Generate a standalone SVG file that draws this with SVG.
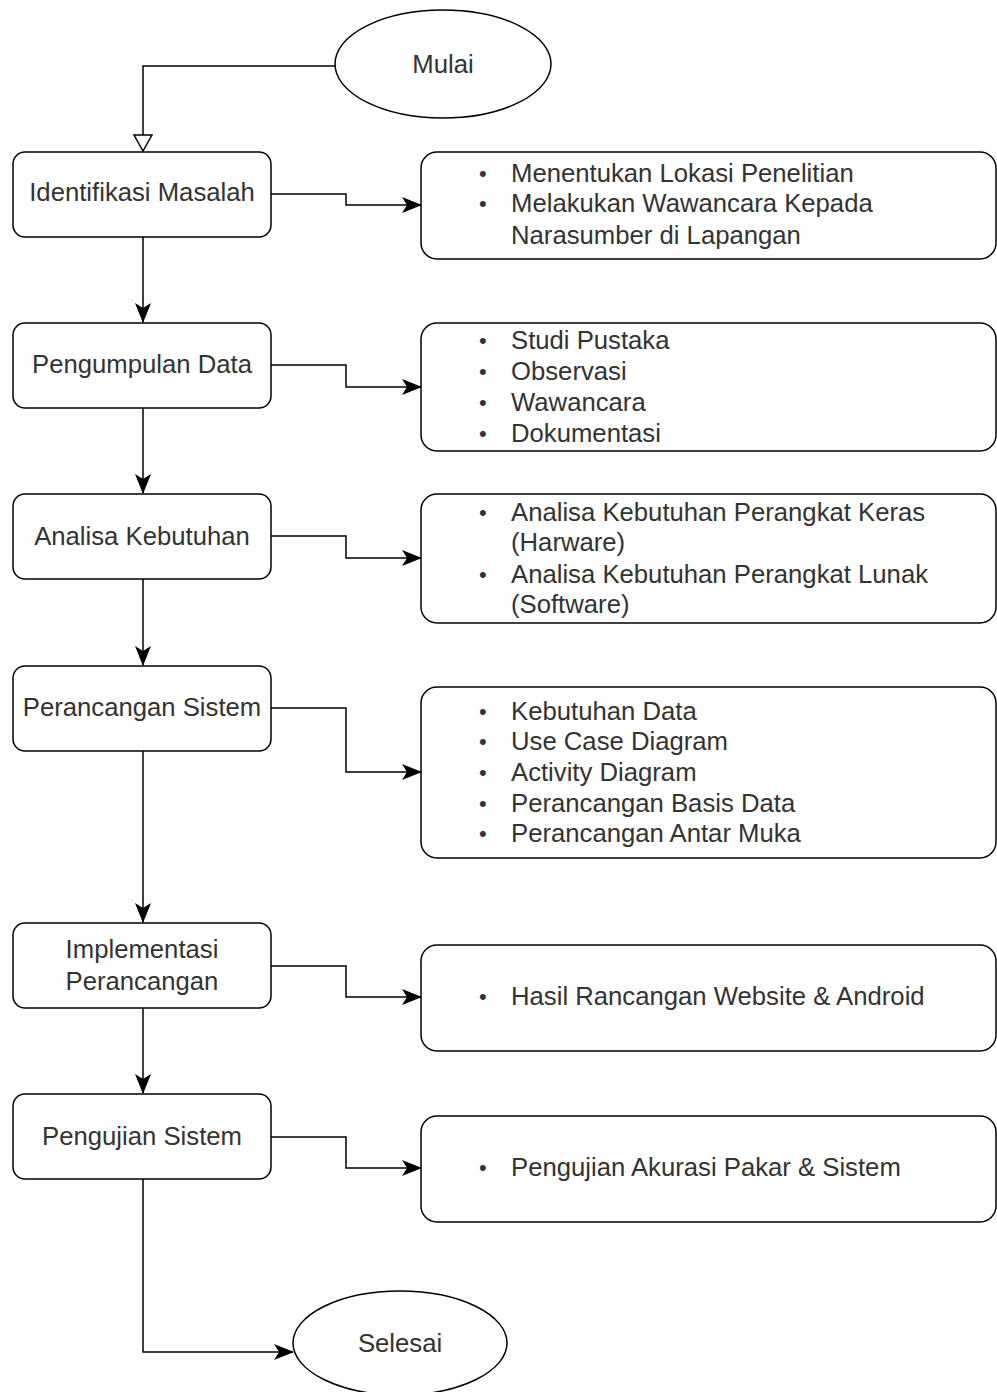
<svg xmlns="http://www.w3.org/2000/svg" width="997" height="1392" viewBox="0 0 997 1392">
<defs>
<style>
.box{fill:#fff;stroke:#000;stroke-width:1.5}
.t{font-family:"Liberation Sans",Arial,sans-serif;font-size:25.7px;fill:#333}
.b{font-family:"Liberation Sans",Arial,sans-serif;font-size:22px;fill:#333}
.c{text-anchor:middle}
.ln{fill:none;stroke:#000;stroke-width:1.5}
</style>
<marker id="a" viewBox="0 0 20 16" refX="19" refY="8" markerWidth="20" markerHeight="16" markerUnits="userSpaceOnUse" orient="auto">
<path d="M0,0 L20,8 L0,16 L5,8 Z" fill="#000"/>
</marker>
<marker id="h" viewBox="0 0 18 20" refX="17" refY="10" markerWidth="18" markerHeight="20" markerUnits="userSpaceOnUse" orient="auto">
<path d="M1,1 L17,10 L1,19 Z" fill="#fff" stroke="#000" stroke-width="1.5"/>
</marker>
</defs>
<rect width="997" height="1392" fill="#fff"/>
<g id="connectors">
<path class="ln" d="M335,66 H143 V151" marker-end="url(#h)"/>
<path class="ln" d="M143,237 V322" marker-end="url(#a)"/>
<path class="ln" d="M143,408 V493" marker-end="url(#a)"/>
<path class="ln" d="M143,579 V665" marker-end="url(#a)"/>
<path class="ln" d="M143,751 V922" marker-end="url(#a)"/>
<path class="ln" d="M143,1008 V1093" marker-end="url(#a)"/>
<path class="ln" d="M143,1179 V1352 H293" marker-end="url(#a)"/>
<path class="ln" d="M271,194 H346 V205 H421" marker-end="url(#a)"/>
<path class="ln" d="M271,365 H346 V387 H421" marker-end="url(#a)"/>
<path class="ln" d="M271,536 H346 V558 H421" marker-end="url(#a)"/>
<path class="ln" d="M271,708 H346 V772 H421" marker-end="url(#a)"/>
<path class="ln" d="M271,966 H346 V997 H421" marker-end="url(#a)"/>
<path class="ln" d="M271,1137 H346 V1168 H421" marker-end="url(#a)"/>
</g>
<g id="mulai"><ellipse class="box" cx="443" cy="64" rx="108" ry="54"/><text class="t c" x="443" y="73">Mulai</text></g>
<g id="identifikasi"><rect class="box" x="13" y="152" width="258" height="85" rx="12"/><text class="t c" x="142" y="201">Identifikasi Masalah</text></g>
<g id="pengumpulan"><rect class="box" x="13" y="323" width="258" height="85" rx="12"/><text class="t c" x="142" y="373">Pengumpulan Data</text></g>
<g id="analisa"><rect class="box" x="13" y="494" width="258" height="85" rx="12"/><text class="t c" x="142" y="545">Analisa Kebutuhan</text></g>
<g id="perancangan"><rect class="box" x="13" y="666" width="258" height="85" rx="12"/><text class="t c" x="142" y="716">Perancangan Sistem</text></g>
<g id="implementasi"><rect class="box" x="13" y="923" width="258" height="85" rx="12"/><text class="t c" x="142" y="958">Implementasi</text><text class="t c" x="142" y="990">Perancangan</text></g>
<g id="pengujian"><rect class="box" x="13" y="1094" width="258" height="85" rx="12"/><text class="t c" x="142" y="1145">Pengujian Sistem</text></g>
<g id="selesai"><ellipse class="box" cx="400" cy="1343" rx="107" ry="52"/><text class="t c" x="400" y="1352">Selesai</text></g>
<g id="r1"><rect class="box" x="421" y="152" width="575" height="107" rx="16"/>
<text class="b" x="479" y="181">•</text><text class="t" x="511" y="182">Menentukan Lokasi Penelitian</text>
<text class="b" x="479" y="211">•</text><text class="t" x="511" y="212">Melakukan Wawancara Kepada</text>
<text class="t" x="511" y="244">Narasumber di Lapangan</text></g>
<g id="r2"><rect class="box" x="421" y="323" width="575" height="128" rx="16"/>
<text class="b" x="479" y="348">•</text><text class="t" x="511" y="349">Studi Pustaka</text>
<text class="b" x="479" y="379">•</text><text class="t" x="511" y="380">Observasi</text>
<text class="b" x="479" y="410">•</text><text class="t" x="511" y="411">Wawancara</text>
<text class="b" x="479" y="441">•</text><text class="t" x="511" y="442">Dokumentasi</text></g>
<g id="r3"><rect class="box" x="421" y="494" width="575" height="129" rx="16"/>
<text class="b" x="479" y="520">•</text><text class="t" x="511" y="521">Analisa Kebutuhan Perangkat Keras</text>
<text class="t" x="511" y="551">(Harware)</text>
<text class="b" x="479" y="582">•</text><text class="t" x="511" y="583">Analisa Kebutuhan Perangkat Lunak</text>
<text class="t" x="511" y="613">(Software)</text></g>
<g id="r4"><rect class="box" x="421" y="687" width="575" height="171" rx="16"/>
<text class="b" x="479" y="719">•</text><text class="t" x="511" y="720">Kebutuhan Data</text>
<text class="b" x="479" y="749">•</text><text class="t" x="511" y="750">Use Case Diagram</text>
<text class="b" x="479" y="780">•</text><text class="t" x="511" y="781">Activity Diagram</text>
<text class="b" x="479" y="811">•</text><text class="t" x="511" y="812">Perancangan Basis Data</text>
<text class="b" x="479" y="841">•</text><text class="t" x="511" y="842">Perancangan Antar Muka</text></g>
<g id="r5"><rect class="box" x="421" y="945" width="575" height="106" rx="16"/>
<text class="b" x="479" y="1004">•</text><text class="t" x="511" y="1005">Hasil Rancangan Website &amp; Android</text></g>
<g id="r6"><rect class="box" x="421" y="1116" width="575" height="106" rx="16"/>
<text class="b" x="479" y="1175">•</text><text class="t" x="511" y="1176">Pengujian Akurasi Pakar &amp; Sistem</text></g>
</svg>
